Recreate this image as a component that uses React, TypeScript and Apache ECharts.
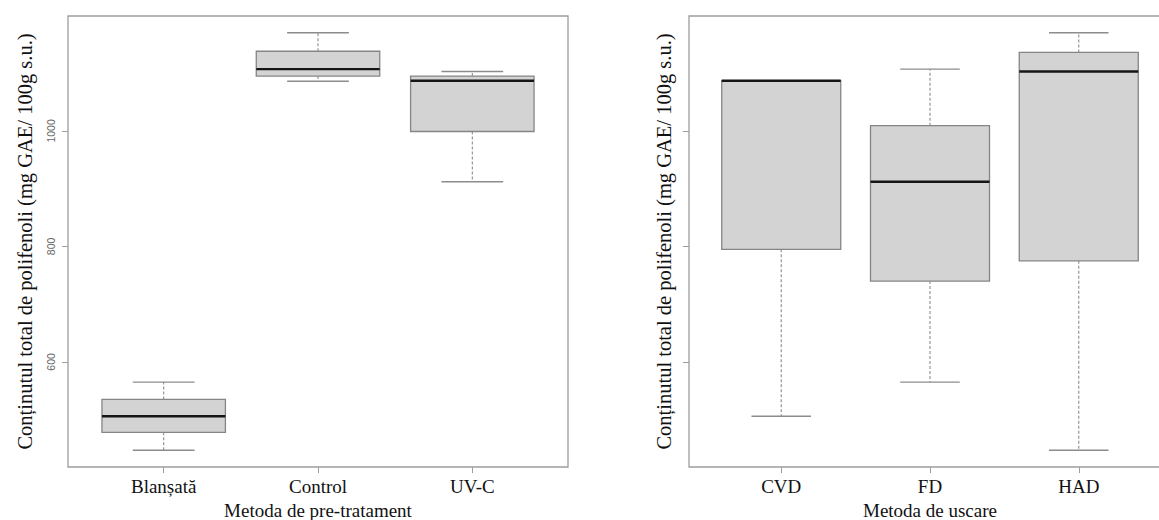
import React, { useEffect, useRef } from "react";
import * as echarts from "echarts";

// Pre-treatment boxplot (left panel)
const pretreatCategories = ["Blanșată", "Control", "UV-C"];
const pretreatMin = [447, 1086, 912];
const pretreatQ1 = [478, 1095, 999];
const pretreatMedian = [506, 1107, 1087];
const pretreatQ3 = [535, 1138, 1095];
const pretreatMax = [565, 1170, 1103];

// Drying method boxplot (right panel)
const dryingCategories = ["CVD", "FD", "HAD"];
const dryingMin = [506, 565, 447];
const dryingQ1 = [795, 740, 775];
const dryingMedian = [1087, 912, 1103];
const dryingQ3 = [1087, 1009, 1136];
const dryingMax = [1087, 1107, 1170];

const yTicks = [600, 800, 1000];
const yMin = 418;
const yMax = 1199;
const categoryPositions = [1, 2, 3];

const yTitle = "Conținutul total de polifenoli (mg GAE/ 100g s.u.)";
const leftXTitle = "Metoda de pre-tratament";
const rightXTitle = "Metoda de uscare";

const SERIF = "'Liberation Serif', 'DejaVu Serif', serif";
const SANS = "'Liberation Sans', Arial, sans-serif";

const BOX_FILL = "#d3d3d3";
const BOX_EDGE = "#858585";
const WHISKER = "#8c8c8c";
const FRAME = "#9d9d9d";

function rows(mins: number[], q1: number[], med: number[], q3: number[], max: number[]) {
  return categoryPositions.map((p, i) => [p, mins[i], q1[i], med[i], q3[i], max[i]]);
}

function renderBox(_params: any, api: any) {
  const x = api.value(0);
  const lo = api.coord([x, api.value(1)]);
  const q1 = api.coord([x, api.value(2)]);
  const md = api.coord([x, api.value(3)]);
  const q3 = api.coord([x, api.value(4)]);
  const hi = api.coord([x, api.value(5)]);
  const bw = api.size([0.8, 0])[0];
  const cw = bw / 2;
  const cx = lo[0];
  const dashed = { stroke: WHISKER, lineWidth: 1.1, lineDash: [3, 2] };
  const solid = { stroke: WHISKER, lineWidth: 1.4 };
  return {
    type: "group",
    children: [
      { type: "line", shape: { x1: cx, y1: q3[1], x2: cx, y2: hi[1] }, style: dashed },
      { type: "line", shape: { x1: cx, y1: q1[1], x2: cx, y2: lo[1] }, style: dashed },
      { type: "line", shape: { x1: cx - cw / 2, y1: hi[1], x2: cx + cw / 2, y2: hi[1] }, style: solid },
      { type: "line", shape: { x1: cx - cw / 2, y1: lo[1], x2: cx + cw / 2, y2: lo[1] }, style: solid },
      {
        type: "rect",
        shape: { x: cx - bw / 2, y: q3[1], width: bw, height: Math.max(q1[1] - q3[1], 0.5) },
        style: { fill: BOX_FILL, stroke: BOX_EDGE, lineWidth: 1.3 },
      },
      {
        type: "line",
        shape: { x1: cx - bw / 2, y1: md[1], x2: cx + bw / 2, y2: md[1] },
        style: { stroke: "#151515", lineWidth: 2.4 },
      },
    ],
  };
}

function xAxisFor(index: number, cats: string[], title: string) {
  return {
    type: "value",
    gridIndex: index,
    min: 0.38,
    max: 3.62,
    splitLine: { show: false },
    axisLine: { show: false },
    axisTick: {
      show: true,
      customValues: categoryPositions,
      length: 6,
      lineStyle: { color: FRAME, width: 1 },
    },
    axisLabel: {
      customValues: categoryPositions,
      formatter: (v: number) => cats[Math.round(v) - 1] ?? "",
      fontFamily: SERIF,
      fontSize: 19,
      color: "#111",
      margin: 10,
    },
    name: title,
    nameLocation: "middle",
    nameGap: 27,
    nameTextStyle: { fontFamily: SERIF, fontSize: 19, lineHeight: 19, color: "#111" },
  };
}

function yAxisFor(index: number, showLabels: boolean, gap: number) {
  return {
    type: "value",
    gridIndex: index,
    min: yMin,
    max: yMax,
    splitLine: { show: false },
    axisLine: { show: false },
    axisTick: {
      show: true,
      customValues: yTicks,
      length: 6,
      lineStyle: { color: FRAME, width: 1 },
    },
    axisLabel: {
      show: showLabels,
      customValues: yTicks,
      formatter: (v: number) => String(v),
      rotate: 90,
      fontFamily: SANS,
      fontSize: 10.5,
      color: "#666",
      margin: 12,
    },
    name: yTitle,
    nameLocation: "middle",
    nameRotate: 90,
    nameGap: gap,
    nameTextStyle: { fontFamily: SERIF, fontSize: 20.5, color: "#111" },
  };
}

export default function App() {
  const ref = useRef<HTMLDivElement>(null);

  useEffect(() => {
    if (!ref.current) return;
    const chart = echarts.init(ref.current, null, { renderer: "svg" });
    chart.setOption({
      animation: false,
      backgroundColor: "#ffffff",
      grid: [
        {
          left: 68, top: 16, width: 500, height: 451,
          outerBoundsMode: "none", containLabel: false,
          show: true, borderColor: FRAME, borderWidth: 1.3, backgroundColor: "transparent",
        },
        {
          left: 689, top: 16, width: 482, height: 451,
          outerBoundsMode: "none", containLabel: false,
          show: true, borderColor: FRAME, borderWidth: 1.3, backgroundColor: "transparent",
        },
      ],
      xAxis: [xAxisFor(0, pretreatCategories, leftXTitle), xAxisFor(1, dryingCategories, rightXTitle)],
      yAxis: [yAxisFor(0, true, 33), yAxisFor(1, false, 15)],
      series: [
        {
          type: "custom",
          xAxisIndex: 0,
          yAxisIndex: 0,
          renderItem: renderBox,
          encode: { x: 0, y: [1, 2, 3, 4, 5] },
          data: rows(pretreatMin, pretreatQ1, pretreatMedian, pretreatQ3, pretreatMax),
          silent: true,
        },
        {
          type: "custom",
          xAxisIndex: 1,
          yAxisIndex: 1,
          renderItem: renderBox,
          encode: { x: 0, y: [1, 2, 3, 4, 5] },
          data: rows(dryingMin, dryingQ1, dryingMedian, dryingQ3, dryingMax),
          silent: true,
        },
      ],
    });
    return () => chart.dispose();
  }, []);

  return (
    <div
      ref={ref}
      style={{ position: "absolute", left: 0, top: 0, width: 1159, height: 520 }}
    />
  );
}
